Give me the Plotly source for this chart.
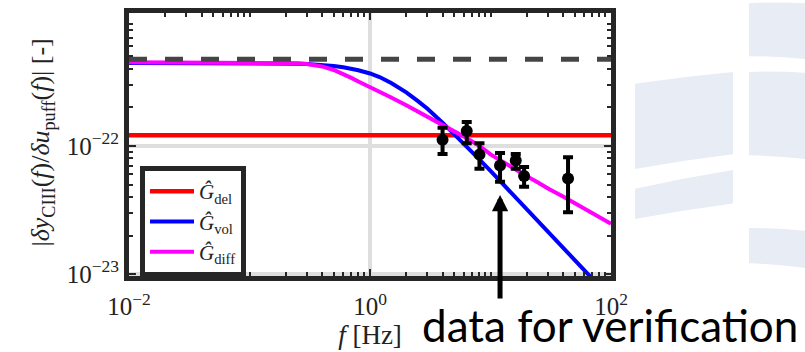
import math
import plotly.graph_objects as go

# Model transfer-function magnitudes, sampled on a log frequency grid [Hz]
freq = [0.01, 0.03, 0.1, 0.15, 0.2, 0.25, 0.3, 0.35, 0.4, 0.5, 0.6, 0.7, 0.8, 1.0, 1.2, 1.5,
        2, 2.5, 3, 4, 5, 6, 7, 8, 10, 13, 16, 20, 25, 30, 40, 50, 60, 70, 80, 100]
g_vol = [4.45e-22, 4.45e-22, 4.44e-22, 4.43e-22, 4.41e-22, 4.39e-22, 4.36e-22, 4.33e-22,
         4.29e-22, 4.21e-22, 4.11e-22, 4.01e-22, 3.90e-22, 3.68e-22, 3.45e-22, 3.10e-22,
         2.62e-22, 2.24e-22, 1.95e-22, 1.52e-22, 1.24e-22, 1.045e-22, 9.03e-23, 7.94e-23,
         6.39e-23, 4.93e-23, 4.02e-23, 3.22e-23, 2.58e-23, 2.15e-23, 1.61e-23, 1.29e-23,
         1.075e-23, 9.21e-24, 8.06e-24, 6.45e-24]
g_diff = [4.5e-22, 4.5e-22, 4.49e-22, 4.48e-22, 4.46e-22, 4.42e-22, 4.36e-22, 4.28e-22,
          4.18e-22, 3.92e-22, 3.65e-22, 3.40e-22, 3.19e-22, 2.89e-22, 2.65e-22, 2.39e-22,
          2.08e-22, 1.85e-22, 1.67e-22, 1.445e-22, 1.30e-22, 1.186e-22, 1.09e-22, 1.01e-22,
          8.6e-23, 7.35e-23, 6.5e-23, 5.8e-23, 5.17e-23, 4.65e-23, 4.03e-23, 3.58e-23,
          3.25e-23, 2.99e-23, 2.79e-23, 2.47e-23]

# Pure delay model: constant magnitude
freq_del = [0.01, 100]
g_del = [1.21e-22, 1.21e-22]

# Static gain reference level
freq_static = [0.01, 100]
g_static = [4.75e-22, 4.75e-22]

# Measured magnitudes with error bounds
meas_f = [4.0, 6.35, 8.1, 12.0, 16.2, 19.0, 44.0]
meas_mag = [1.12e-22, 1.31e-22, 8.56e-23, 7.05e-23, 7.70e-23, 5.84e-23, 5.57e-23]
meas_hi = [1.39e-22, 1.54e-22, 1.05e-22, 8.81e-23, 8.65e-23, 6.84e-23, 8.16e-23]
meas_lo = [8.65e-23, 1.05e-22, 6.64e-23, 5.25e-23, 6.64e-23, 4.81e-23, 3.04e-23]

# Verification point highlighted by the arrow
verify_f = 12.0
verify_tip = 4.15e-23

x_tickvals = [1e-2, 1e0, 1e2]
x_ticktext = ["10<sup>−2</sup>", "10<sup>0</sup>", "10<sup>2</sup>"]
y_tickvals = [1e-23, 1e-22]
y_ticktext = ["10<sup>−23</sup>", "10<sup>−22</sup>"]

W, H = 805, 352
ML, MR, MT, MB = 129, 194, 8, 76
PW, PH = W - ML - MR, H - MT - MB
FRAME = "#262626"
TEXT = "#222222"
SERIF = "Liberation Serif, Times New Roman, serif"


def px(x, y):
    """Pixel position -> paper coordinates string."""
    return f"{(x - ML) / PW:.4f},{(H - MB - y) / PH:.4f}"


def band(x0, x1, top0, top1, bot0, bot1):
    """Slightly curved vertical band of the background emblem."""
    xm = (x0 + x1) / 2
    tm = (top0 + top1) / 2 - 1.5
    bm = (bot0 + bot1) / 2 - 1.5
    return (f"M{px(x0, top0)} Q{px(xm, tm)} {px(x1, top1)} "
            f"L{px(x1, bot1)} Q{px(xm, bm)} {px(x0, bot0)} Z")


emblem = [
    band(635, 733, 80, 68, 167, 152),
    band(635, 733, 187, 168, 218, 202),
    band(749, 806, -2, -2, 52, 55),
    band(749, 806, 68, 69, 153, 157),
    band(749, 806, 227, 230, 263, 268),
]

fig = go.Figure()

fig.add_trace(go.Scatter(x=freq_del, y=g_del, mode="lines", name="<i>Ĝ</i><sub>del</sub>",
                         line=dict(color="#FF0000", width=4.5)))
fig.add_trace(go.Scatter(x=freq, y=g_vol, mode="lines", name="<i>Ĝ</i><sub>vol</sub>",
                         line=dict(color="#0000FF", width=4)))
fig.add_trace(go.Scatter(x=freq, y=g_diff, mode="lines", name="<i>Ĝ</i><sub>diff</sub>",
                         line=dict(color="#FF00FF", width=4)))
fig.add_trace(go.Scatter(x=freq_static, y=g_static, mode="lines", showlegend=False,
                         line=dict(color="#454545", width=5, dash="18px,18px")))
fig.add_trace(go.Scatter(
    x=meas_f, y=meas_mag, mode="markers", showlegend=False,
    marker=dict(color="black", size=12),
    error_y=dict(type="data", symmetric=False,
                 array=[h - m for h, m in zip(meas_hi, meas_mag)],
                 arrayminus=[m - l for m, l in zip(meas_mag, meas_lo)],
                 color="black", thickness=4, width=5),
))

minor_x = [k * 10.0 ** e for e in range(-2, 2) for k in range(2, 10)] + [0.1, 10]
minor_y = [k * 10.0 ** e for e in range(-24, -20) for k in range(2, 10)]

axis_common = dict(
    type="log", showline=True, linewidth=5, linecolor=FRAME, mirror="allticks",
    ticks="inside", ticklen=7, tickwidth=2, tickcolor=FRAME,
    showgrid=True, gridcolor="#DEDEDE", gridwidth=4, zeroline=False,
    tickfont=dict(family=SERIF, size=25, color=TEXT),
    minor=dict(ticks="inside", ticklen=4, tickwidth=2, tickcolor=FRAME, showgrid=False),
)

fig.update_xaxes(
    **axis_common, range=[-2, 2], tickmode="array",
    tickvals=x_tickvals, ticktext=x_ticktext, ticklabelstandoff=4,
    title=dict(text="<i>f</i> [Hz]", font=dict(family=SERIF, size=27, color=TEXT),
               standoff=3),
)
fig.update_xaxes(minor_tickmode="array", minor_tickvals=minor_x)
fig.update_yaxes(
    **axis_common, range=[-23.015, -20.962], tickmode="array",
    tickvals=y_tickvals, ticktext=y_ticktext,
)
fig.update_yaxes(minor_tickmode="array", minor_tickvals=minor_y)

# Vertical quantity label to the left of the tick labels
fig.add_annotation(
    x=(42 - ML) / PW, y=(H - MB - 140) / PH, xref="paper", yref="paper",
    xanchor="center", yanchor="middle", textangle=-90, showarrow=False,
    text="|<i>δy</i><sub>CIII</sub>(<i>f</i>)/<i>δu</i><sub>puff</sub>(<i>f</i>)| [-]",
    font=dict(family=SERIF, size=26, color=TEXT),
)
fig.add_annotation(
    x=math.log10(verify_f), y=math.log10(verify_tip), xref="x", yref="y",
    text="", showarrow=True, ax=0, ay=105, arrowhead=2, arrowsize=0.65,
    arrowwidth=5, arrowcolor="black", standoff=0,
)
fig.add_annotation(
    x=(420 - ML) / PW, y=(H - MB - 326) / PH, xref="paper", yref="paper",
    xanchor="left", yanchor="middle", showarrow=False,
    text="data for verification", font=dict(family="Lato", size=44, color="black"),
)

fig.update_layout(
    width=W, height=H,
    margin=dict(l=ML, r=MR, t=MT, b=MB, pad=0),
    paper_bgcolor="white", plot_bgcolor="white",
    shapes=[dict(type="path", path=p, xref="paper", yref="paper", layer="below",
                 fillcolor="#E8EDF5", line=dict(width=0)) for p in emblem],
    legend=dict(x=(140 - ML) / PW, y=(H - MB - 164) / PH, xanchor="left", yanchor="top",
                bgcolor="white", bordercolor=FRAME, borderwidth=5,
                font=dict(family=SERIF, size=21, color=TEXT),
                tracegroupgap=0, itemwidth=44),
    showlegend=True,
)

fig.write_html("out.html")
